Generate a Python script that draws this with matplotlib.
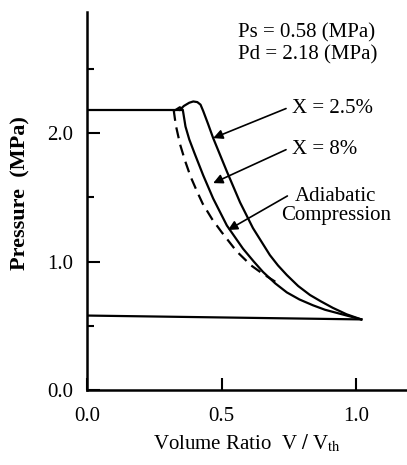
import matplotlib
matplotlib.use('Agg')
import matplotlib.pyplot as plt
from matplotlib.ticker import FixedLocator

plt.rcParams['font.family'] = ['Liberation Serif', 'DejaVu Serif']
plt.rcParams['mathtext.fontset'] = 'stix'

# suction and discharge pressure lines
suction_v = [0.0, 1.02]
suction_p = [0.58, 0.55]
discharge_v = [0.0, 0.35]
discharge_p = [2.18, 2.18]

# compression curves
x25_v = [0.345, 0.360, 0.380, 0.395, 0.410, 0.422, 0.432, 0.450, 0.469, 0.520,
         0.569, 0.617, 0.650, 0.680, 0.710, 0.743, 0.785, 0.829, 0.870, 0.914,
         0.965, 1.020]
x25_p = [2.18, 2.21, 2.235, 2.245, 2.24, 2.22, 2.17, 2.07, 1.96, 1.70,
         1.46, 1.26, 1.15, 1.05, 0.97, 0.895, 0.81, 0.74, 0.69, 0.64,
         0.59, 0.55]

x8_v = [0.330, 0.345, 0.356, 0.366, 0.380, 0.400, 0.432, 0.469, 0.520, 0.580,
        0.620, 0.654, 0.700, 0.743, 0.790, 0.840, 0.885, 0.930, 0.975, 1.020]
x8_p = [2.18, 2.20, 2.18, 2.05, 1.95, 1.84, 1.67, 1.49, 1.28, 1.10,
        1.00, 0.92, 0.83, 0.76, 0.705, 0.66, 0.625, 0.60, 0.575, 0.55]

adia_v = [0.322, 0.330, 0.346, 0.365, 0.385, 0.410, 0.430, 0.465, 0.500, 0.556,
          0.610, 0.650, 0.680, 0.710]
adia_p = [2.18, 2.06, 1.91, 1.78, 1.66, 1.54, 1.45, 1.33, 1.23, 1.08,
          0.97, 0.91, 0.87, 0.83]

fig = plt.figure(figsize=(4.07, 4.65), dpi=100)
ax = fig.add_axes([0.214, 0.161, 0.786, 0.813])

lw = 1.6
ax.plot(suction_v, suction_p, color='black', lw=lw)
ax.plot(discharge_v, discharge_p, color='black', lw=lw)
ax.plot(x25_v, x25_p, color='black', lw=lw, solid_joinstyle='round')
ax.plot(x8_v, x8_p, color='black', lw=lw, solid_joinstyle='round')
ax.plot(adia_v, adia_p, color='black', lw=lw, dashes=(5, 3))

ax.set_xlim(0, 1.19)
ax.set_ylim(0, 2.94)
for s in ['top', 'right']:
    ax.spines[s].set_visible(False)
for s in ['left', 'bottom']:
    ax.spines[s].set_linewidth(1.8)

ax.xaxis.set_major_locator(FixedLocator([0.0, 0.5, 1.0]))
ax.set_xticklabels(['0.0', '0.5', '1.0'])
ax.yaxis.set_major_locator(FixedLocator([0.0, 1.0, 2.0]))
ax.set_yticklabels(['0.0', '1.0', '2.0'])
ax.yaxis.set_minor_locator(FixedLocator([0.5, 1.5, 2.5]))
ax.tick_params(axis='both', which='major', direction='in', length=9, width=1.5,
               labelsize=15)
ax.tick_params(axis='x', which='major', pad=12)
ax.tick_params(axis='y', which='major', pad=10)
ax.tick_params(axis='y', which='minor', direction='in', length=5, width=1.5)

ax.set_xlabel(r'Volume Ratio  V $/$ V$_{\mathrm{th}}$', fontsize=15, labelpad=5)
fig.text(0.050, 0.585, 'Pressure  (MPa)', rotation=90, fontsize=16,
         fontweight='bold', ha='center', va='center')

ax.text(0.561, 2.78, 'Ps = 0.58 (MPa)', fontsize=15, ha='left', va='center')
ax.text(0.561, 2.61, 'Pd = 2.18 (MPa)', fontsize=15, ha='left', va='center')

ax.text(0.762, 2.19, 'X = 2.5%', fontsize=15, ha='left', va='center')
ax.text(0.762, 1.87, 'X = 8%', fontsize=15, ha='left', va='center')
ax.text(0.925, 1.43, 'Adiabatic\nCompression', fontsize=15, ha='center',
        va='center', linespacing=1.0)

arrow = dict(arrowstyle='-|>', color='black', lw=1.2, mutation_scale=14,
             shrinkA=0, shrinkB=0)
ax.annotate('', xy=(0.469, 1.96), xytext=(0.740, 2.19), arrowprops=arrow)
ax.annotate('', xy=(0.469, 1.61), xytext=(0.740, 1.87), arrowprops=arrow)
ax.annotate('', xy=(0.524, 1.245), xytext=(0.745, 1.51), arrowprops=arrow)

fig.savefig('out.png', dpi=100)
